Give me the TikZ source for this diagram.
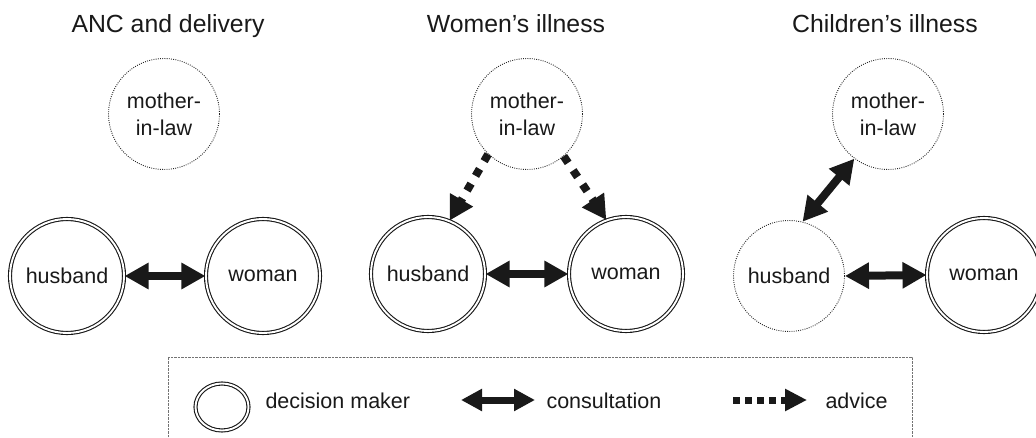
\documentclass[tikz,border=0pt]{standalone}
\usepackage{fontspec}
\setmainfont{Liberation Sans}
\usetikzlibrary{arrows.meta,shapes.geometric}
\begin{document}
\begin{tikzpicture}[x=1pt,y=-1pt,
  every node/.style={font=\fontsize{21.5}{27}\selectfont, text=black!90},
  title/.style={font=\fontsize{24.8}{30}\selectfont, anchor=base},
  maker/.style={circle, draw=black!90, line width=1.1pt, double=white, double distance=1.9pt, minimum size=114pt, inner sep=0pt},
  other/.style={circle, draw=black!85, line width=0.9pt, dash pattern=on 0.9pt off 1.3pt, minimum size=111pt, inner sep=0pt, align=center},
  consult/.style={line width=8pt, draw=black!90, {Triangle[length=24pt,width=25pt]}-{Triangle[length=24pt,width=25pt]}},
  advice/.style={line width=8pt, draw=black!90, dash pattern=on 8pt off 9pt, -{Triangle[length=24pt,width=25pt]}},
  legtext/.style={anchor=base west},
]
\useasboundingbox (0,0) rectangle (1036,438);

% titles
\node[title] (t1) at (168,33) {ANC and delivery};
\node[title] (t2) at (516,33) {Women’s illness};
\node[title] (t3) at (885,33) {Children’s illness};

% panel 1
\node[other] (m1) at (164,114) {mother-\\in-law};
\node[maker] (h1) at (67,276) {husband};
\node[maker] (w1) at (263,276) {woman};
\draw[consult] (h1.east) -- (w1.west);

% panel 2
\node[other] (m2) at (527,114) {mother-\\in-law};
\node[maker] (h2) at (428,274) {husband};
\node[maker] (w2) at (626,274) {woman};
\draw[consult] (h2.east) -- (w2.west);
\draw[advice] (m2.226) -- (h2.68);
\draw[advice] (m2.311) -- (w2.110);

% panel 3
\node[other] (m3) at (888,114) {mother-\\in-law};
\node[other] (h3) at (789,276) {husband};
\node[maker] (w3) at (984,275) {woman};
\draw[consult] (h3.east) -- (w3.west);
\draw[consult] (h3.76) -- (m3.233);

% legend
\node[draw=black!55, line width=0.7pt, dash pattern=on 0.7pt off 0.7pt, minimum width=744pt, minimum height=82pt, inner sep=0pt] (box) at (540,398) {};
\node[ellipse, draw=black!90, line width=1.1pt, double=white, double distance=1.9pt, minimum width=53pt, minimum height=47pt, inner sep=0pt] (lm) at (222,407) {};
\node[legtext] (lt1) at (262,408) {decision maker};
\coordinate (c1) at (461,400);
\coordinate (c2) at (535,400);
\draw[line width=7pt, draw=black!90, {Triangle[length=21pt,width=21pt]}-{Triangle[length=21pt,width=21pt]}] (c1) -- (c2);
\node[legtext] (lt2) at (543,408) {consultation};
\coordinate (a1) at (733,400);
\coordinate (a2) at (807,400);
\draw[line width=7pt, draw=black!90, dash pattern=on 7pt off 5pt, -{Triangle[length=22pt,width=21pt]}] (a1) -- (a2);
\node[legtext] (lt3) at (822,408) {advice};
\end{tikzpicture}
\end{document}
